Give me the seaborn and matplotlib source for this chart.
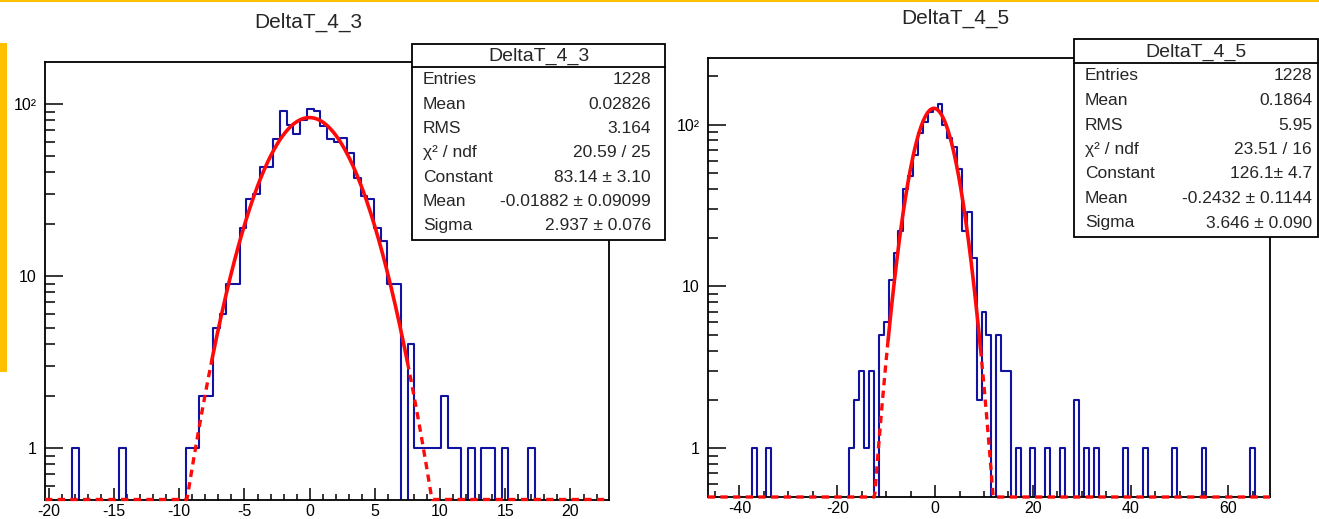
import numpy as np
import pandas as pd
import matplotlib
matplotlib.use("Agg")
import matplotlib.pyplot as plt
import seaborn as sns
from matplotlib.patches import Rectangle
from matplotlib.lines import Line2D
from matplotlib.ticker import (FixedLocator, FixedFormatter, LogLocator,
                               NullFormatter, MultipleLocator)

# ---------------------------------------------------------------- data
T43_NAME = "DeltaT_4_3"
T43_RANGE = (-20.3, 22.955)          # axis range, equal-width bins
T43_COUNTS = [
    0, 0, 0, 0, 1, 0, 0, 0, 0, 0,
    0, 1, 0, 0, 0, 0, 0, 0, 0, 0,
    0, 1, 1, 2, 2, 5, 6, 9, 9, 19,
    28, 30, 43, 43, 62, 91, 75, 67, 80, 93,
    91, 74, 62, 60, 63, 52, 37, 29, 28, 19,
    16, 9, 9, 0, 4, 1, 1, 1, 1, 2,
    1, 1, 0, 1, 0, 1, 1, 0, 1, 0,
    0, 0, 1, 0, 0, 0, 0, 0, 0, 0,
    0, 0, 0, 0,
]
T43_FIT = (83.14, -0.01882, 2.937)    # constant, mean, sigma
T43_FIT_RANGE = (-7.5, 7.5)
T43_YLIM = (0.5, 175)
T43_STAT_VALUES = ["1228", "0.02826", "3.164", "20.59 / 25",
                   "83.14 ± 3.10", "-0.01882 ± 0.09099", "2.937 ± 0.076"]

T45_NAME = "DeltaT_4_5"
T45_RANGE = (-46.5, 68.5)
T45_COUNTS = [
    0, 0, 0, 0, 0, 0, 0, 0, 0, 1,
    0, 0, 1, 0, 0, 0, 0, 0, 0, 0,
    0, 0, 0, 0, 0, 0, 0, 0, 0, 1,
    2, 3, 1, 3, 0, 5, 6, 11, 16, 22,
    40, 48, 65, 89, 104, 120, 125, 135, 100, 83,
    73, 53, 22, 29, 15, 2, 7, 5, 0, 5,
    3, 3, 0, 1, 0, 0, 1, 0, 0, 1,
    0, 0, 1, 0, 0, 2, 0, 1, 0, 1,
    0, 0, 0, 0, 0, 1, 0, 0, 0, 1,
    0, 0, 0, 0, 0, 1, 0, 0, 0, 0,
    0, 1, 0, 0, 0, 0, 0, 0, 0, 0,
    0, 1, 0, 0, 0,
]
T45_FIT = (126.1, -0.2432, 3.646)
T45_FIT_RANGE = (-9.6, 9.3)
T45_YLIM = (0.5, 257)
T45_STAT_VALUES = ["1228", "0.1864", "5.95", "23.51 / 16",
                   "126.1± 4.7", "-0.2432 ± 0.1144", "3.646 ± 0.090"]

STAT_LABELS = ["Entries", "Mean", "RMS", "χ² / ndf", "Constant", "Mean", "Sigma"]
Y_TICKS = [1, 10, 100]
Y_TICK_LABELS = ["1", "10", "10²"]

# ---------------------------------------------------------------- style
W, H = 1319, 519
HIST_BLUE = "#1212a2"
FIT_RED = "#ff0a0a"
ACCENT = "#ffc000"

sns.set_theme(style="white")
plt.rcParams["font.family"] = ["Liberation Sans", "DejaVu Sans"]
plt.rcParams["axes.unicode_minus"] = False

fig = plt.figure(figsize=(W / 100, H / 100), dpi=100)
fig.patch.set_facecolor("white")


def fx(px):
    return px / W


def fy(py):
    return 1 - py / H


def gauss(x, fit):
    c, m, s = fit
    return c * np.exp(-0.5 * ((x - m) / s) ** 2)


def draw_panel(ax, rng, counts, fit, fit_range, ylim, major_x, minor_x):
    n = len(counts)
    width = (rng[1] - rng[0]) / n
    centers = rng[0] + width * (np.arange(n) + 0.5)
    df = pd.DataFrame({"dt": centers, "n": np.asarray(counts, dtype=float)})
    sns.histplot(data=df, x="dt", weights="n", bins=n, binrange=rng,
                 element="step", fill=False, color=HIST_BLUE,
                 linewidth=1.5, ax=ax)
    ax.set_yscale("log")

    # fitted gaussian: solid inside the fit range, dashed outside,
    # values under the axis minimum are drawn on the bottom edge
    for lo, hi in [(rng[0], fit_range[0]), (fit_range[1], rng[1])]:
        xs = np.linspace(lo, hi, 300)
        ys = np.maximum(gauss(xs, fit), ylim[0])
        sns.lineplot(x=xs, y=ys, estimator=None, sort=False, ax=ax,
                     color=FIT_RED, linewidth=2.4, linestyle=(0, (2.2, 1.6)),
                     clip_on=False, zorder=4)
    xs = np.linspace(fit_range[0], fit_range[1], 400)
    sns.lineplot(x=xs, y=gauss(xs, fit), estimator=None, sort=False, ax=ax,
                 color=FIT_RED, linewidth=2.6, zorder=5)

    ax.set_xlim(rng)
    ax.set_ylim(ylim)
    ax.set_xlabel("")
    ax.set_ylabel("")
    ax.yaxis.set_major_locator(FixedLocator(Y_TICKS))
    ax.yaxis.set_major_formatter(FixedFormatter(Y_TICK_LABELS))
    ax.yaxis.set_minor_locator(LogLocator(base=10, subs=np.arange(2, 10), numticks=20))
    ax.yaxis.set_minor_formatter(NullFormatter())
    ax.xaxis.set_major_locator(MultipleLocator(major_x))
    ax.xaxis.set_minor_locator(MultipleLocator(minor_x))

    ax.tick_params(axis="both", which="both", direction="in", bottom=True,
                   left=True, top=False, right=False, colors="black",
                   width=1.1, labelsize=11.5)
    ax.tick_params(axis="x", which="major", length=8.5, pad=3)
    ax.tick_params(axis="x", which="minor", length=4.3)
    ax.tick_params(axis="y", which="major", length=13, pad=6)
    ax.tick_params(axis="y", which="minor", length=7)
    for s in ax.spines.values():
        s.set_visible(True)
        s.set_color("black")
        s.set_linewidth(1.3)
    ax.set_facecolor("white")


def draw_stats(box, header_y, title, values, row_y0, row_step, label_x, value_x):
    left, top, right, bottom = box
    fig.add_artist(Rectangle((fx(left), fy(bottom)), fx(right - left),
                             (bottom - top) / H, transform=fig.transFigure,
                             facecolor="white", edgecolor="black",
                             linewidth=1.3, zorder=6))
    fig.add_artist(Line2D([fx(left), fx(right)], [fy(header_y), fy(header_y)],
                          transform=fig.transFigure, color="black",
                          linewidth=1.3, zorder=7))
    fig.text(fx((left + right) / 2), fy((top + header_y) / 2 + 1), title,
             ha="center", va="center", fontsize=14, zorder=8)
    for i, (lab, val) in enumerate(zip(STAT_LABELS, values)):
        y = fy(row_y0 + i * row_step)
        fig.text(fx(label_x), y, lab, ha="left", va="center",
                 fontsize=12.5, zorder=8)
        fig.text(fx(value_x), y, val, ha="right", va="center",
                 fontsize=12.5, zorder=8)


ax1 = fig.add_axes([fx(45), fy(499.5), fx(609 - 45), (499.5 - 62) / H])
ax2 = fig.add_axes([fx(707.7), fy(497), fx(1270 - 707.7), (497 - 58.3) / H])

draw_panel(ax1, T43_RANGE, T43_COUNTS, T43_FIT, T43_FIT_RANGE, T43_YLIM, 5, 1)
draw_panel(ax2, T45_RANGE, T45_COUNTS, T45_FIT, T45_FIT_RANGE, T45_YLIM, 20, 5)

fig.text(fx(308), fy(22), T43_NAME, ha="center", va="center", fontsize=15)
fig.text(fx(955), fy(18), T45_NAME, ha="center", va="center", fontsize=15)

draw_stats((412, 44, 665, 240), 67, T43_NAME, T43_STAT_VALUES,
           80, 24.3, 423, 651)
draw_stats((1074, 39, 1318, 237), 63, T45_NAME, T45_STAT_VALUES,
           76, 24.5, 1085, 1312)

# slide accents
fig.add_artist(Rectangle((0, fy(2)), 1, 2 / H, transform=fig.transFigure,
                         facecolor=ACCENT, edgecolor="none", zorder=9))
fig.add_artist(Rectangle((0, fy(372)), fx(7), (372 - 43) / H,
                         transform=fig.transFigure, facecolor=ACCENT,
                         edgecolor="none", zorder=9))

fig.savefig("out.png", dpi=100)
